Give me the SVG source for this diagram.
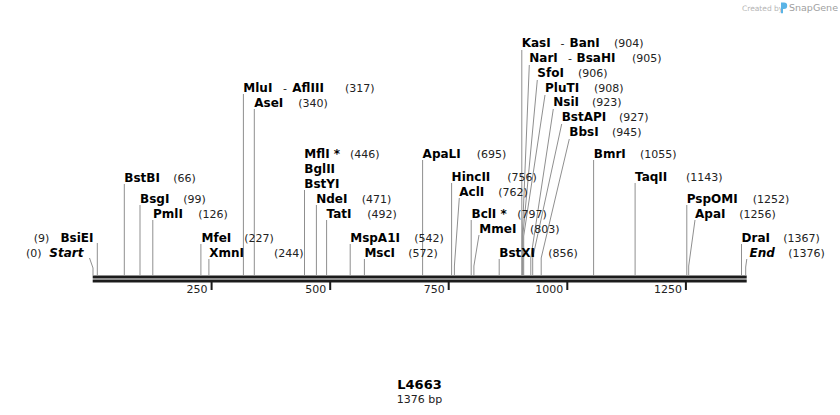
<svg xmlns="http://www.w3.org/2000/svg" width="840" height="415" viewBox="0 0 840 415">
<style>
text{font-family:"DejaVu Sans",Verdana,sans-serif}
.n{font-size:12px;font-weight:bold;fill:#000}
.i{font-size:12px;font-weight:bold;font-style:italic;fill:#000}
.p{font-size:11px;fill:#222}
.d{font-size:11px;fill:#222}
.l{fill:none;stroke:#8f8f8f;stroke-width:1}
.bar{fill:#1c1c1c}
.tk{font-size:11px;fill:#222;text-anchor:end}
.e{text-anchor:end}
</style>
<rect width="840" height="415" fill="#fff"/>
<g id="watermark">
<text x="742" y="10.5" style="font-size:7.5px;fill:#b4b4b4">Created by</text>
<path d="M781,2.5h3a3.2,3.2 0 0 1 0,6.4h-1v4.3h-2z" fill="#5ab4e6"/>
<text x="789" y="11" style="font-size:9.5px;fill:#a0a0a0">SnapGene</text>
</g>
<g id="ruler">
<rect class="bar" x="92.7" y="275.5" width="654" height="3"/>
<rect class="bar" x="92.7" y="279.5" width="654" height="3"/>
<rect class="bar" x="210.6" y="282" width="2" height="8"/>
<rect class="bar" x="329.2" y="282" width="2" height="8"/>
<rect class="bar" x="447.7" y="282" width="2" height="8"/>
<rect class="bar" x="566.3" y="282" width="2" height="8"/>
<rect class="bar" x="684.9" y="282" width="2" height="8"/>
<text class="tk" x="207.6" y="293">250</text>
<text class="tk" x="326.2" y="293">500</text>
<text class="tk" x="444.7" y="293">750</text>
<text class="tk" x="563.3" y="293">1000</text>
<text class="tk" x="681.9" y="293">1250</text>
</g>
<g id="connectors">
<polyline class="l" points="89.5,258 93,268 93,275.5"/>
<polyline class="l" points="97.3,243 97.3,275.5"/>
<polyline class="l" points="124.3,184 124.3,275.5"/>
<polyline class="l" points="140,205 140,275.5"/>
<polyline class="l" points="152.8,220 152.8,275.5"/>
<polyline class="l" points="200.9,244 200.9,275.5"/>
<polyline class="l" points="208.9,259 208.9,275.5"/>
<polyline class="l" points="243.4,94 243.4,275.5"/>
<polyline class="l" points="254.3,109 254.3,275.5"/>
<polyline class="l" points="304.5,190 304.5,275.5"/>
<polyline class="l" points="316.4,205 316.4,275.5"/>
<polyline class="l" points="326.6,220 326.6,275.5"/>
<polyline class="l" points="350.2,244 350.2,275.5"/>
<polyline class="l" points="364.4,259 364.4,275.5"/>
<polyline class="l" points="422.6,160 422.6,275.5"/>
<polyline class="l" points="451.6,183 451.6,275.5"/>
<polyline class="l" points="459.3,198 454.4,266 454.4,275.5"/>
<polyline class="l" points="471.2,220 471.2,275.5"/>
<polyline class="l" points="479,235 473.9,266 473.9,275.5"/>
<polyline class="l" points="499.2,259 499.2,275.5"/>
<polyline class="l" points="521.8,50 521.8,275.5"/>
<polyline class="l" points="529.3,65 522.3,236 522.3,275.5"/>
<polyline class="l" points="537.3,80 522.8,236 522.8,275.5"/>
<polyline class="l" points="545,95 523.7,236 523.7,275.5"/>
<polyline class="l" points="553.3,109 530.8,258 530.8,275.5"/>
<polyline class="l" points="561.7,124 532.7,258 532.7,275.5"/>
<polyline class="l" points="569.3,139 541.2,258 541.2,275.5"/>
<polyline class="l" points="593.6,160 593.6,275.5"/>
<polyline class="l" points="635.1,183 635.1,275.5"/>
<polyline class="l" points="686.8,205 686.8,275.5"/>
<polyline class="l" points="695,220 688.7,266 688.7,275.5"/>
<polyline class="l" points="741.5,244 741.5,275.5"/>
<polyline class="l" points="746.8,259 745.7,267 745.7,275.5"/>
</g>
<g id="start"><text class="p e" x="41.5" y="256.5">(0)</text><text class="i e" x="83.5" y="256.5">Start</text></g>
<g id="BsiEI"><text class="p e" x="49.3" y="241.5">(9)</text><text class="n e" x="93.5" y="241.5">BsiEI</text></g>
<g id="BstBI"><text class="n" x="124.3" y="181.5">BstBI</text><text class="p" x="173.3" y="181.5">(66)</text></g>
<g id="BsgI"><text class="n" x="140" y="202.5">BsgI</text><text class="p" x="183.3" y="202.5">(99)</text></g>
<g id="PmlI"><text class="n" x="153" y="217.5">PmlI</text><text class="p" x="198.3" y="217.5">(126)</text></g>
<g id="MfeI"><text class="n" x="201.5" y="241.5">MfeI</text><text class="p" x="244.3" y="241.5">(227)</text></g>
<g id="XmnI"><text class="n" x="209.3" y="256.5">XmnI</text><text class="p" x="274" y="256.5">(244)</text></g>
<g id="MluI"><text class="n" x="243.3" y="91.5">MluI</text><text class="d" x="283" y="91.5">-</text><text class="n" x="292.3" y="91.5">AflIII</text><text class="p" x="345" y="91.5">(317)</text></g>
<g id="AseI"><text class="n" x="254.3" y="106.5">AseI</text><text class="p" x="298.3" y="106.5">(340)</text></g>
<g id="MflI"><text class="n" x="304.3" y="157.5">MflI *</text><text class="p" x="350" y="157.5">(446)</text><text class="n" x="304.3" y="172.5">BglII</text><text class="n" x="304.3" y="187.5">BstYI</text></g>
<g id="NdeI"><text class="n" x="316.2" y="202.5">NdeI</text><text class="p" x="361.7" y="202.5">(471)</text></g>
<g id="TatI"><text class="n" x="326.6" y="217.5">TatI</text><text class="p" x="367.3" y="217.5">(492)</text></g>
<g id="MspA1I"><text class="n" x="350.2" y="241.5">MspA1I</text><text class="p" x="414.3" y="241.5">(542)</text></g>
<g id="MscI"><text class="n" x="364.4" y="256.5">MscI</text><text class="p" x="408.3" y="256.5">(572)</text></g>
<g id="ApaLI"><text class="n" x="422.6" y="157.5">ApaLI</text><text class="p" x="476.7" y="157.5">(695)</text></g>
<g id="HincII"><text class="n" x="451.6" y="180.5">HincII</text><text class="p" x="507.3" y="180.5">(756)</text></g>
<g id="AclI"><text class="n" x="459.3" y="195.5">AclI</text><text class="p" x="498.3" y="195.5">(762)</text></g>
<g id="BclI"><text class="n" x="471.5" y="217.5">BclI *</text><text class="p" x="517.3" y="217.5">(797)</text></g>
<g id="MmeI"><text class="n" x="479.3" y="232.5">MmeI</text><text class="p" x="530" y="232.5">(803)</text></g>
<g id="BstXI"><text class="n" x="499.3" y="256.5">BstXI</text><text class="p" x="548.3" y="256.5">(856)</text></g>
<g id="KasI"><text class="n" x="521.7" y="46.5">KasI</text><text class="d" x="560.5" y="46.5">-</text><text class="n" x="569.5" y="46.5">BanI</text><text class="p" x="614" y="46.5">(904)</text></g>
<g id="NarI"><text class="n" x="529.3" y="61.5">NarI</text><text class="d" x="568" y="61.5">-</text><text class="n" x="576.5" y="61.5">BsaHI</text><text class="p" x="632" y="61.5">(905)</text></g>
<g id="SfoI"><text class="n" x="537.3" y="76.5">SfoI</text><text class="p" x="578" y="76.5">(906)</text></g>
<g id="PluTI"><text class="n" x="545" y="91.5">PluTI</text><text class="p" x="594" y="91.5">(908)</text></g>
<g id="NsiI"><text class="n" x="553.3" y="105.5">NsiI</text><text class="p" x="592" y="105.5">(923)</text></g>
<g id="BstAPI"><text class="n" x="561.7" y="120.5">BstAPI</text><text class="p" x="619" y="120.5">(927)</text></g>
<g id="BbsI"><text class="n" x="569.3" y="135.5">BbsI</text><text class="p" x="612" y="135.5">(945)</text></g>
<g id="BmrI"><text class="n" x="593.8" y="157.5">BmrI</text><text class="p" x="640" y="157.5">(1055)</text></g>
<g id="TaqII"><text class="n" x="635" y="180.5">TaqII</text><text class="p" x="686" y="180.5">(1143)</text></g>
<g id="PspOMI"><text class="n" x="686.7" y="202.5">PspOMI</text><text class="p" x="752.7" y="202.5">(1252)</text></g>
<g id="ApaI"><text class="n" x="695" y="217.5">ApaI</text><text class="p" x="739.3" y="217.5">(1256)</text></g>
<g id="DraI"><text class="n" x="741.6" y="241.5">DraI</text><text class="p" x="783.3" y="241.5">(1367)</text></g>
<g id="end"><text class="i" x="749.5" y="256.5">End</text><text class="p" x="788.3" y="256.5">(1376)</text></g>
<g id="title"><text x="419.5" y="388.5" text-anchor="middle" style="font-size:13px;font-weight:bold">L4663</text><text x="419.5" y="403" text-anchor="middle" style="font-size:11px;fill:#222">1376 bp</text></g>
</svg>
